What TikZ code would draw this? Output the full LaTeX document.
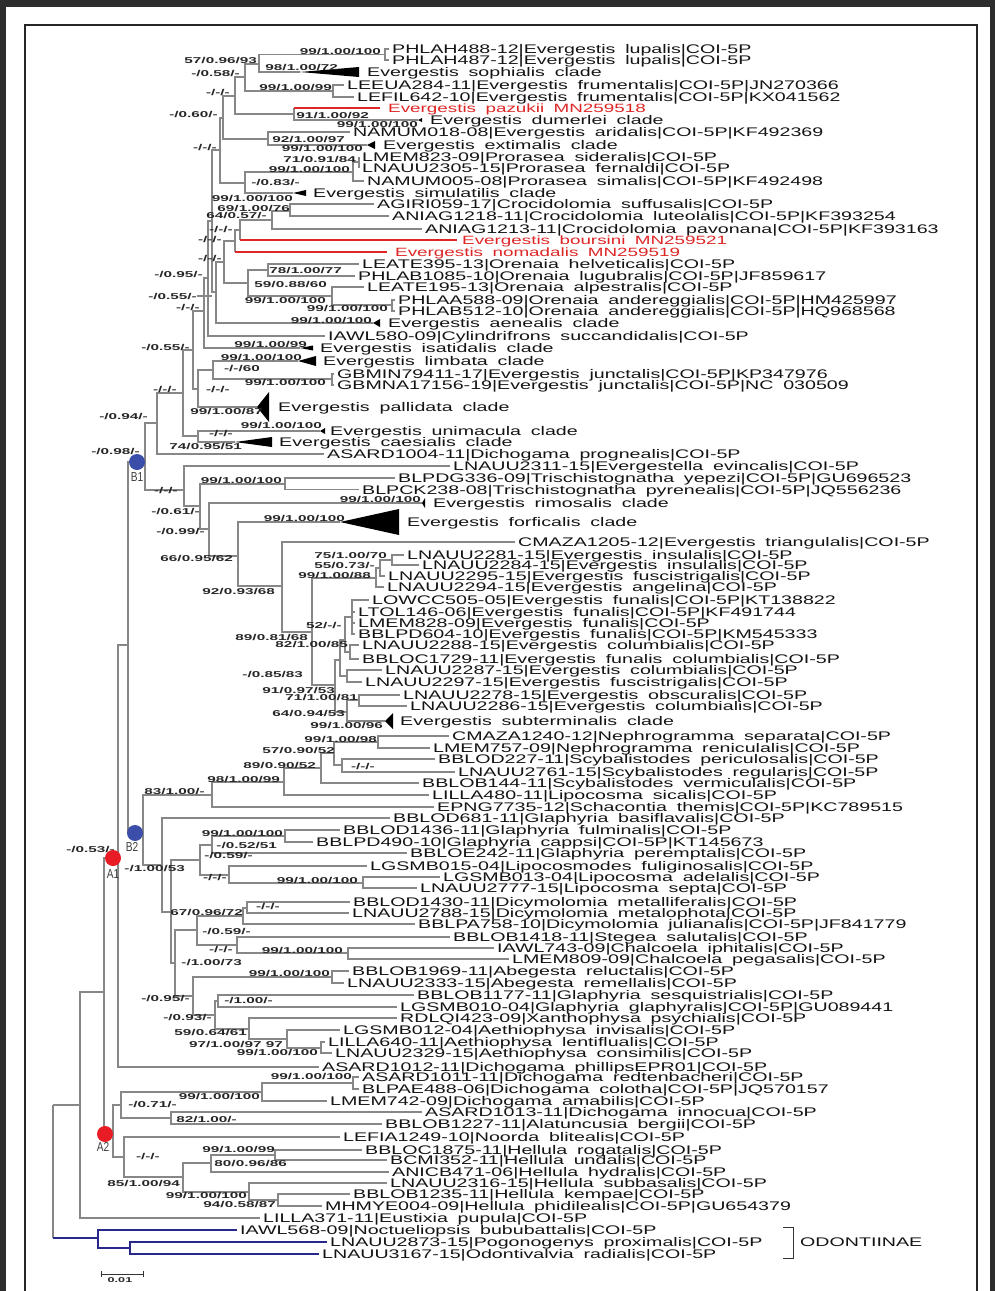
\documentclass[tikz,border=0pt]{standalone}
\usepackage{fontspec}
\setmainfont{Liberation Sans}
\newfontfamily\lff[FakeStretch=1.57,WordSpace=1.8]{Liberation Sans}
\newfontfamily\bsf[FakeStretch=1.8]{Liberation Sans}
\newfontfamily\tagf[FakeStretch=0.78]{Liberation Sans}
\definecolor{treegray}{RGB}{135,135,135}
\definecolor{redtx}{RGB}{222,38,38}
\definecolor{navy}{RGB}{40,40,140}
\definecolor{dotred}{RGB}{232,28,36}
\definecolor{dotblue}{RGB}{58,78,170}
\definecolor{framedark}{RGB}{45,45,45}
\tikzset{
  leaf/.style={anchor=west,inner sep=0pt,text height=9pt,text depth=0pt,font=\lff\fontsize{12.5pt}{12.5pt}\selectfont,text=black!92},
  redleaf/.style={leaf,text=redtx,font=\lff\fontsize{12pt}{12pt}\selectfont},
  bs/.style={anchor=base east,inner sep=0pt,font=\bsf\bfseries\fontsize{8.5pt}{8.5pt}\selectfont,text=black!85},
  br/.style={draw=treegray,line width=1.2pt},
  rbr/.style={draw=redtx,line width=1.3pt},
  bbr/.style={draw=navy,line width=2pt},
  dot/.style={circle,inner sep=0pt,minimum size=16pt},
  tagl/.style={inner sep=0pt,font=\tagf\fontsize{13pt}{13pt}\selectfont,text=black!75}
}
\newcommand\leafn[4]{\node[leaf] (#1) at (#2,#3) {#4};}
\newcounter{bsc}
\newcommand\bsl[3]{\stepcounter{bsc}\node[bs] (bs\arabic{bsc}) at (#1,#2) {#3};}
\newcommand\clade[7]{\coordinate (#1) at (#2,#3);\fill[black] (#1) -- (#4,#3-#5) -- (#4,#3+#5) -- cycle;\node[leaf] (#1t) at (#6,#3) {#7};}
\newcommand\edg[2]{\draw[br] (#1) |- (#2);}
\newcommand\edl[2]{\draw[br] (#1) |- ([xshift=-3pt]#2.west);}
\begin{document}
\begin{tikzpicture}[x=1pt,y=-1pt]
\useasboundingbox (0,0) rectangle (995,1291);
\fill[white] (0,0) rectangle (995,1291);
% frame
\fill[framedark] (0,0) rectangle (995,7);
\fill[framedark] (0,0) rectangle (6,1291);
\fill[framedark] (990,0) rectangle (995,1291);
\draw[black!85,line width=1.6pt] (25,1291) -- (25,25) -- (977,25) -- (977,1291);

% ---------- internal nodes ----------
\coordinate (PH) at (385,54.5);
\coordinate (N57) at (259,64);
\coordinate (FR) at (333,91);
\coordinate (N58) at (245,77);
\coordinate (N91) at (294,114);
\coordinate (N6) at (235,96);
\coordinate (EX) at (268,139);
\coordinate (N60) at (223,118);
\coordinate (PR71) at (359,162);
\coordinate (PR99) at (353,172);
\coordinate (PR83) at (245,183);
\coordinate (L1) at (220,150);
\coordinate (CR69) at (290,211);
\coordinate (CR64) at (272,220);
\coordinate (BOU) at (240,230);
\coordinate (NOM) at (235,241);
\coordinate (OR78) at (268,270);
\coordinate (ORP) at (392,305);
\coordinate (OR99) at (332,296);
\coordinate (OR59) at (248,283);
\coordinate (N224) at (224,262);
\coordinate (NA) at (216,292);
\coordinate (X) at (212,221);
\coordinate (N95) at (208,278);
\coordinate (N204) at (204,311);
\coordinate (GBM) at (332,379);
\coordinate (N60b) at (213,370);
\coordinate (N198) at (198,389);
\coordinate (N193) at (193,350);
\coordinate (U) at (198,436);
\coordinate (N183) at (183,393);
\coordinate (N94) at (157,423);
\coordinate (B1a) at (145,462);
\coordinate (EV) at (184,490);
\coordinate (TRI) at (285,484);
\coordinate (E61) at (200,506);
\coordinate (E99) at (209,529);
\coordinate (E66) at (238,556);
\coordinate (E92) at (282,586);
\coordinate (F312) at (312,632);
\coordinate (INS) at (376,578);
\coordinate (IN55) at (380,568);
\coordinate (IN75) at (392,560);
\coordinate (FB) at (335,685);
\coordinate (FC) at (340,660);
\coordinate (F89) at (345,640);
\coordinate (F52) at (352,617);
\coordinate (F82) at (350,652);
\coordinate (COL) at (347,676);
\coordinate (FD) at (347,712);
\coordinate (F71) at (359,700);
\coordinate (NEP) at (378,742);
\coordinate (SCY) at (342,765);
\coordinate (N57b) at (334,753);
\coordinate (N89) at (321,768);
\coordinate (N98) at (284,782);
\coordinate (N83) at (212,795);
\coordinate (GL99) at (285,836);
\coordinate (GL212) at (212,845);
\coordinate (LIP) at (363,883);
\coordinate (LIP229) at (229,875);
\coordinate (GLA) at (200,860);
\coordinate (DP) at (247,908);
\coordinate (DIC) at (243,916);
\coordinate (CHA) at (348,953);
\coordinate (STE) at (237,945);
\coordinate (G197) at (197,930);
\coordinate (AB) at (332,977);
\coordinate (G218) at (218,1001);
\coordinate (AE2) at (321,1048);
\coordinate (AE97) at (287,1039);
\coordinate (AE59) at (249,1029);
\coordinate (G215) at (215,1015);
\coordinate (G193) at (193,996);
\coordinate (G175) at (175,963);
\coordinate (G173) at (171,912);
\coordinate (G162) at (162,865);
\coordinate (B2n) at (143,833);
\coordinate (Bn) at (128,645);
\coordinate (A1n) at (118,858);
\coordinate (DI2) at (353,1083);
\coordinate (DI99) at (262,1092);
\coordinate (DI82) at (171,1118);
\coordinate (DICH) at (121,1105);
\coordinate (H99) at (275,1155);
\coordinate (HR) at (211,1163);
\coordinate (HP) at (278,1200);
\coordinate (HS) at (249,1192);
\coordinate (H85) at (183,1177);
\coordinate (HEL) at (124,1157);
\coordinate (A2n) at (113,1134);
\coordinate (N104) at (104,992);
\coordinate (N80) at (80,1105);
\coordinate (ROOT) at (53,1105);
\coordinate (OD) at (98,1238);
\coordinate (OD2) at (130,1248);

% ---------- leaves ----------
\leafn{l1}{392}{49}{PHLAH488-12|Evergestis lupalis|COI-5P}
\leafn{l2}{392}{60}{PHLAH487-12|Evergestis lupalis|COI-5P}
\clade{c3}{300}{72}{359}{5}{367}{Evergestis sophialis clade}
\leafn{l4}{347}{85}{LEEUA284-11|Evergestis frumentalis|COI-5P|JN270366}
\leafn{l5}{357}{97}{LEFIL642-10|Evergestis frumentalis|COI-5P|KX041562}
\node[redleaf] (paz) at (388,108) {Evergestis pazukii MN259518};
\clade{c7}{418}{120}{422}{2}{430}{Evergestis dumerlei clade}
\leafn{l8}{353}{132}{NAMUM018-08|Evergestis aridalis|COI-5P|KF492369}
\clade{c9}{367}{145}{375}{4}{383}{Evergestis extimalis clade}
\leafn{l10}{362}{157}{LMEM823-09|Prorasea sideralis|COI-5P}
\leafn{l11}{362}{168}{LNAUU2305-15|Prorasea fernaldi|COI-5P}
\leafn{l12}{367}{181}{NAMUM005-08|Prorasea simalis|COI-5P|KF492498}
\clade{c13}{293}{193}{306}{3}{313}{Evergestis simulatilis clade}
\leafn{l14}{377}{204}{AGIRI059-17|Crocidolomia suffusalis|COI-5P}
\leafn{l15}{392}{216}{ANIAG1218-11|Crocidolomia luteolalis|COI-5P|KF393254}
\leafn{l16}{425}{229}{ANIAG1213-11|Crocidolomia pavonana|COI-5P|KF393163}
\node[redleaf] (bou) at (462,240) {Evergestis boursini MN259521};
\node[redleaf] (nom) at (395,252) {Evergestis nomadalis MN259519};
\leafn{l19}{362}{264}{LEATE395-13|Orenaia helveticalis|COI-5P}
\leafn{l20}{358}{276}{PHLAB1085-10|Orenaia lugubralis|COI-5P|JF859617}
\leafn{l21}{367}{287}{LEATE195-13|Orenaia alpestralis|COI-5P}
\leafn{l22}{398}{300}{PHLAA588-09|Orenaia andereggialis|COI-5P|HM425997}
\leafn{l23}{398}{311}{PHLAB512-10|Orenaia andereggialis|COI-5P|HQ968568}
\clade{c24}{373}{323}{380}{4}{388}{Evergestis aenealis clade}
\leafn{l25}{328}{336}{IAWL580-09|Cylindrifrons succandidalis|COI-5P}
\clade{c26}{300}{348}{313}{2.5}{320}{Evergestis isatidalis clade}
\clade{c27}{298}{361}{316}{5}{323}{Evergestis limbata clade}
\leafn{l28}{337}{374}{GBMIN79411-17|Evergestis junctalis|COI-5P|KP347976}
\leafn{l29}{337}{385}{GBMNA17156-19|Evergestis junctalis|COI-5P|NC 030509}
\clade{c30}{257}{407}{269}{15}{278}{Evergestis pallidata clade}
\clade{c31}{320}{431}{325}{3}{330}{Evergestis unimacula clade}
\clade{c32}{235}{442}{272}{5}{279}{Evergestis caesialis clade}
\leafn{l33}{327}{454}{ASARD1004-11|Dichogama prognealis|COI-5P}
\leafn{l34}{453}{466}{LNAUU2311-15|Evergestella evincalis|COI-5P}
\leafn{l35}{398}{478}{BLPDG336-09|Trischistognatha yepezi|COI-5P|GU696523}
\leafn{l36}{362}{489.5}{BLPCK238-08|Trischistognatha pyrenealis|COI-5P|JQ556236}
\clade{c37}{422}{503}{425}{5}{433}{Evergestis rimosalis clade}
\clade{c38}{340}{522}{399}{13}{407}{Evergestis forficalis clade}
\leafn{l39}{518}{542}{CMAZA1205-12|Evergestis triangulalis|COI-5P}
\leafn{l40}{407}{555}{LNAUU2281-15|Evergestis insulalis|COI-5P}
\leafn{l41}{422}{565}{LNAUU2284-15|Evergestis insulalis|COI-5P}
\leafn{l42}{388}{576}{LNAUU2295-15|Evergestis fuscistrigalis|COI-5P}
\leafn{l43}{387}{587}{LNAUU2294-15|Evergestis angelina|COI-5P}
\leafn{l44}{372}{600}{LOWCC505-05|Evergestis funalis|COI-5P|KT138822}
\leafn{l45}{358}{612}{LTOL146-06|Evergestis funalis|COI-5P|KF491744}
\leafn{l46}{358}{623}{LMEM828-09|Evergestis funalis|COI-5P}
\leafn{l47}{358}{634}{BBLPD604-10|Evergestis funalis|COI-5P|KM545333}
\leafn{l48}{362}{645}{LNAUU2288-15|Evergestis columbialis|COI-5P}
\leafn{l49}{362}{659}{BBLOC1729-11|Evergestis funalis columbialis|COI-5P}
\leafn{l50}{385}{670}{LNAUU2287-15|Evergestis columbialis|COI-5P}
\leafn{l51}{365}{682}{LNAUU2297-15|Evergestis fuscistrigalis|COI-5P}
\leafn{l52}{403}{695}{LNAUU2278-15|Evergestis obscuralis|COI-5P}
\leafn{l53}{410}{706}{LNAUU2286-15|Evergestis columbialis|COI-5P}
\clade{c54}{385}{721}{393}{8}{400}{Evergestis subterminalis clade}
\leafn{l55}{452}{736}{CMAZA1240-12|Nephrogramma separata|COI-5P}
\leafn{l56}{433}{748}{LMEM757-09|Nephrogramma reniculalis|COI-5P}
\leafn{l57}{438}{759}{BBLOD227-11|Scybalistodes periculosalis|COI-5P}
\leafn{l58}{458}{772}{LNAUU2761-15|Scybalistodes regularis|COI-5P}
\leafn{l59}{422}{783}{BBLOB144-11|Scybalistodes vermiculalis|COI-5P}
\leafn{l60}{432}{795}{LILLA480-11|Lipocosma sicalis|COI-5P}
\leafn{l61}{437}{807}{EPNG7735-12|Schacontia themis|COI-5P|KC789515}
\leafn{l62}{393}{818}{BBLOD681-11|Glaphyria basiflavalis|COI-5P}
\leafn{l63}{343}{830}{BBLOD1436-11|Glaphyria fulminalis|COI-5P}
\leafn{l64}{316}{842}{BBLPD490-10|Glaphyria cappsi|COI-5P|KT145673}
\leafn{l65}{410}{853}{BBLOE242-11|Glaphyria peremptalis|COI-5P}
\leafn{l66}{370}{866}{LGSMB015-04|Lipocosmodes fuliginosalis|COI-5P}
\leafn{l67}{443}{877}{LGSMB013-04|Lipocosma adelalis|COI-5P}
\leafn{l68}{420}{888}{LNAUU2777-15|Lipocosma septa|COI-5P}
\leafn{l69}{353}{902}{BBLOD1430-11|Dicymolomia metalliferalis|COI-5P}
\leafn{l70}{352}{913}{LNAUU2788-15|Dicymolomia metalophota|COI-5P}
\leafn{l71}{418}{924}{BBLPA758-10|Dicymolomia julianalis|COI-5P|JF841779}
\leafn{l72}{453}{937}{BBLOB1418-11|Stegea salutalis|COI-5P}
\leafn{l73}{497}{948}{IAWL743-09|Chalcoela iphitalis|COI-5P}
\leafn{l74}{512}{959}{LMEM809-09|Chalcoela pegasalis|COI-5P}
\leafn{l75}{352}{971}{BBLOB1969-11|Abegesta reluctalis|COI-5P}
\leafn{l76}{347}{983}{LNAUU2333-15|Abegesta remellalis|COI-5P}
\leafn{l77}{417}{995}{BBLOB1177-11|Glaphyria sesquistrialis|COI-5P}
\leafn{l78}{400}{1007}{LGSMB010-04|Glaphyria glaphyralis|COI-5P|GU089441}
\leafn{l79}{400}{1018}{RDLQI423-09|Xanthophysa psychialis|COI-5P}
\leafn{l80}{343}{1030}{LGSMB012-04|Aethiophysa invisalis|COI-5P}
\leafn{l81}{328}{1042}{LILLA640-11|Aethiophysa lentiflualis|COI-5P}
\leafn{l82}{335}{1053}{LNAUU2329-15|Aethiophysa consimilis|COI-5P}
\leafn{l83}{322}{1067}{ASARD1012-11|Dichogama phillipsEPR01|COI-5P}
\leafn{l84}{362}{1077}{ASARD1011-11|Dichogama redtenbacheri|COI-5P}
\leafn{l85}{362}{1089}{BLPAE488-06|Dichogama colotha|COI-5P|JQ570157}
\leafn{l86}{330}{1101}{LMEM742-09|Dichogama amabilis|COI-5P}
\leafn{l87}{425}{1112}{ASARD1013-11|Dichogama innocua|COI-5P}
\leafn{l88}{385}{1124}{BBLOB1227-11|Alatuncusia bergii|COI-5P}
\leafn{l89}{343}{1137}{LEFIA1249-10|Noorda blitealis|COI-5P}
\leafn{l90}{365}{1150}{BBLOC1875-11|Hellula rogatalis|COI-5P}
\leafn{l91}{390}{1160}{BCMI352-11|Hellula undalis|COI-5P}
\leafn{l92}{392}{1172}{ANICB471-06|Hellula hydralis|COI-5P}
\leafn{l93}{390}{1183}{LNAUU2316-15|Hellula subbasalis|COI-5P}
\leafn{l94}{353}{1194}{BBLOB1235-11|Hellula kempae|COI-5P}
\leafn{l95}{325}{1206}{MHMYE004-09|Hellula phidilealis|COI-5P|GU654379}
\leafn{l96}{263}{1218}{LILLA371-11|Eustixia pupula|COI-5P}
\leafn{l97}{240}{1230}{IAWL568-09|Noctueliopsis bububattalis|COI-5P}
\leafn{l98}{330}{1242}{LNAUU2873-15|Pogonogenys proximalis|COI-5P}
\leafn{l99}{322}{1254}{LNAUU3167-15|Odontivalvia radialis|COI-5P}

% ---------- branches ----------
\edl{PH}{l1}\edl{PH}{l2}
\edg{N57}{PH}\edg{N57}{c3}
\edl{FR}{l4}\edl{FR}{l5}
\edg{N58}{N57}\edg{N58}{FR}
\draw[br] (N91) -- (N91 |- paz.west);
\draw[rbr] (N91 |- paz.west) -- ([xshift=-8pt]paz.west);
\edg{N91}{c7}
\edg{N6}{N58}\edg{N6}{N91}
\edl{EX}{l8}\edg{EX}{c9}
\edg{N60}{N6}\edg{N60}{EX}
\edl{PR71}{l10}\edl{PR71}{l11}
\edg{PR99}{PR71}\edl{PR99}{l12}
\edg{PR83}{PR99}\edg{PR83}{c13}
\edg{L1}{N60}\edg{L1}{PR83}
\edl{CR69}{l14}\edl{CR69}{l15}
\edg{CR64}{CR69}\edl{CR64}{l16}
\edg{BOU}{CR64}
\draw[br] (BOU) -- (BOU |- bou.west);
\draw[rbr] (BOU |- bou.west) -- ([xshift=-5pt]bou.west);
\edg{NOM}{BOU}
\draw[br] (NOM) -- (NOM |- nom.west);
\draw[rbr] (NOM |- nom.west) -- ([xshift=-8pt]nom.west);
\edl{OR78}{l19}\edl{OR78}{l20}
\edl{ORP}{l22}\edl{ORP}{l23}
\edl{OR99}{l21}\edg{OR99}{ORP}
\edg{OR59}{OR78}\edg{OR59}{OR99}
\edg{N224}{NOM}\edg{N224}{OR59}
\edg{NA}{N224}\edg{NA}{c24}
\edg{X}{L1}\edg{X}{NA}
\edg{N95}{X}\edl{N95}{l25}
\edg{N204}{N95}\edg{N204}{c26}
\edl{GBM}{l28}\edl{GBM}{l29}
\edg{N60b}{c27}\edg{N60b}{GBM}
\edg{N198}{N60b}\edg{N198}{c30}
\edg{N193}{N204}\edg{N193}{N198}
\edg{U}{c31}\edg{U}{c32}
\edg{N183}{N193}\edg{N183}{U}
\edg{N94}{N183}\edl{N94}{l33}
\edg{B1a}{N94}\edg{B1a}{EV}
\edl{EV}{l34}\edg{EV}{E61}
\edl{TRI}{l35}\edl{TRI}{l36}
\edg{E61}{TRI}\edg{E61}{E99}
\edg{E99}{c37}\edg{E99}{E66}
\edg{E66}{c38}\edg{E66}{E92}
\edl{E92}{l39}\edg{E92}{F312}
\edg{F312}{INS}\edg{F312}{FB}
\edg{INS}{IN55}\edl{INS}{l43}
\edg{IN55}{IN75}\edl{IN55}{l42}
\edl{IN75}{l40}\edl{IN75}{l41}
\edg{FB}{FC}\edg{FB}{FD}
\edg{FC}{F89}\edg{FC}{COL}
\edg{F89}{F52}\edg{F89}{F82}
\edl{F52}{l44}\edl{F52}{l45}\edl{F52}{l46}\edl{F52}{l47}
\edl{F82}{l48}\edl{F82}{l49}
\edl{COL}{l50}\edl{COL}{l51}
\edg{FD}{F71}\edg{FD}{c54}
\edl{F71}{l52}\edl{F71}{l53}
\edl{NEP}{l55}\edl{NEP}{l56}
\edl{SCY}{l57}\edl{SCY}{l58}
\edg{N57b}{NEP}\edg{N57b}{SCY}
\edg{N89}{N57b}\edl{N89}{l59}
\edg{N98}{N89}\edl{N98}{l60}
\edg{N83}{N98}\edl{N83}{l61}
\edl{GL99}{l63}\edl{GL99}{l64}
\edg{GL212}{GL99}\edl{GL212}{l65}
\edl{LIP}{l67}\edl{LIP}{l68}
\edl{LIP229}{l66}\edg{LIP229}{LIP}
\edg{GLA}{GL212}\edg{GLA}{LIP229}
\edl{DP}{l69}\edl{DP}{l70}
\edg{DIC}{DP}\edl{DIC}{l71}
\edl{CHA}{l73}\edl{CHA}{l74}
\edl{STE}{l72}\edg{STE}{CHA}
\edg{G197}{DIC}\edg{G197}{STE}
\edl{AB}{l75}\edl{AB}{l76}
\edl{G218}{l77}\edl{G218}{l78}
\edl{AE2}{l81}\edl{AE2}{l82}
\edl{AE97}{l80}\edg{AE97}{AE2}
\edl{AE59}{l79}\edg{AE59}{AE97}
\edg{G215}{G218}\edg{G215}{AE59}
\edg{G193}{AB}\edg{G193}{G215}
\edg{G175}{G197}\edg{G175}{G193}
\edg{G173}{GLA}\edg{G173}{G175}
\edl{G162}{l62}\edg{G162}{G173}
\edg{B2n}{N83}\edg{B2n}{G162}
\edg{Bn}{B1a}\edg{Bn}{B2n}
\edg{A1n}{Bn}\edl{A1n}{l83}
\edl{DI2}{l84}\edl{DI2}{l85}
\edg{DI99}{DI2}\edl{DI99}{l86}
\edl{DI82}{l87}\edl{DI82}{l88}
\edg{DICH}{DI99}\edg{DICH}{DI82}
\edl{H99}{l90}\edl{H99}{l91}
\edg{HR}{H99}\edl{HR}{l92}
\edl{HP}{l94}\edl{HP}{l95}
\edl{HS}{l93}\edg{HS}{HP}
\edg{H85}{HR}\edg{H85}{HS}
\edl{HEL}{l89}\edg{HEL}{H85}
\edg{A2n}{DICH}\edg{A2n}{HEL}
\edg{N104}{A1n}\edg{N104}{A2n}
\edg{N80}{N104}\edl{N80}{l96}
\edg{ROOT}{N80}
\draw[br] (ROOT) -- (ROOT |- OD);
\draw[bbr] (ROOT |- OD) -- (OD);
\draw[bbr] (OD) |- ([xshift=-3pt]l97.west);
\draw[bbr] (OD) |- (OD2);
\draw[bbr] (OD2) |- ([xshift=-3pt]l98.west);
\draw[bbr] (OD2) |- ([xshift=-3pt]l99.west);

% ---------- support values ----------
\bsl{381}{54}{99/1.00/100}
\bsl{257}{63}{57/0.96/93}
\bsl{338}{70}{98/1.00/72}
\bsl{240}{76}{-/0.58/-}
\bsl{332}{90}{99/1.00/99}
\bsl{230}{95}{-/-/-}
\bsl{369}{118}{91/1.00/92}
\bsl{218}{117}{-/0.60/-}
\bsl{418}{127}{99/1.00/100}
\bsl{345}{142}{92/1.00/97}
\bsl{363}{151}{99/1.00/100}
\bsl{217}{150}{-/-/-}
\bsl{356}{162}{71/0.91/84}
\bsl{350}{172}{99/1.00/100}
\bsl{300}{185}{-/0.83/-}
\bsl{293}{201}{99/1.00/100}
\bsl{290}{211}{69/1.00/76}
\bsl{267}{218}{64/0.57/-}
\bsl{233}{232}{-/-/-}
\bsl{222}{242}{-/-/-}
\bsl{222}{261}{-/-/-}
\bsl{342}{273}{78/1.00/77}
\bsl{203}{277}{-/0.95/-}
\bsl{327}{287}{59/0.88/60}
\node[bs] (lead) at (197,299) {-/0.55/-};
\draw[br] (lead.east) -- (X |- lead.east);
\bsl{326}{303}{99/1.00/100}
\bsl{200}{310}{-/-/-}
\bsl{388}{311}{99/1.00/100}
\bsl{372}{323}{99/1.00/100}
\bsl{307}{347}{99/1.00/99}
\bsl{190}{350}{-/0.55/-}
\bsl{302}{360}{99/1.00/100}
\bsl{260}{371}{-/-/60}
\bsl{326}{385}{99/1.00/100}
\bsl{230}{392}{-/-/-}
\bsl{177}{392}{-/-/-}
\bsl{263}{414}{99/1.00/87}
\bsl{148}{419}{-/0.94/-}
\bsl{322}{428}{99/1.00/100}
\bsl{233}{436}{-/-/-}
\bsl{242}{449}{74/0.95/51}
\bsl{140}{454}{-/0.98/-}
\bsl{282}{483}{99/1.00/100}
\bsl{178}{493}{-/-/-}
\bsl{421}{502.5}{99/1.00/100}
\bsl{200}{514}{-/0.61/-}
\bsl{345}{521}{99/1.00/100}
\bsl{205}{534}{-/0.99/-}
\bsl{387}{558}{75/1.00/70}
\bsl{233}{561}{66/0.95/62}
\bsl{375}{568}{55/0.73/-}
\bsl{371}{578}{99/1.00/88}
\bsl{275}{594}{92/0.93/68}
\bsl{342}{628}{52/-/-}
\bsl{308}{640}{89/0.81/68}
\bsl{348}{647}{82/1.00/85}
\bsl{303}{677}{-/0.85/83}
\bsl{335}{693}{91/0.97/53}
\bsl{358}{700}{71/1.00/81}
\bsl{345}{716}{64/0.94/53}
\bsl{383}{728}{99/1.00/96}
\bsl{377}{742}{99/1.00/98}
\bsl{335}{753}{57/0.90/52}
\bsl{316}{768}{89/0.90/52}
\bsl{375}{769}{-/-/-}
\bsl{280}{782}{98/1.00/99}
\bsl{205}{794}{83/1.00/-}
\bsl{283}{836}{99/1.00/100}
\bsl{277}{848}{-/0.52/51}
\bsl{115}{852}{-/0.53/-}
\bsl{253}{858}{-/0.59/-}
\bsl{185}{871}{-/1.00/53}
\bsl{227}{880}{-/-/-}
\bsl{358}{883}{99/1.00/100}
\bsl{280}{909}{-/-/-}
\bsl{243}{915}{67/0.96/72}
\bsl{251}{934}{-/0.59/-}
\bsl{233}{952}{-/-/-}
\bsl{343}{953}{99/1.00/100}
\bsl{242}{965}{-/1.00/73}
\bsl{330}{976}{99/1.00/100}
\bsl{190}{1001}{-/0.95/-}
\bsl{273}{1003}{-/1.00/-}
\bsl{212}{1020}{-/0.93/-}
\bsl{247}{1035}{59/0.64/61}
\bsl{283}{1047}{97/1.00/97 97}
\bsl{318}{1055}{99/1.00/100}
\bsl{352}{1079}{99/1.00/100}
\bsl{260}{1099}{99/1.00/100}
\bsl{177}{1107}{-/0.71/-}
\bsl{237}{1122}{82/1.00/-}
\bsl{275}{1152}{99/1.00/99}
\bsl{160}{1159}{-/-/-}
\bsl{287}{1166}{80/0.96/86}
\bsl{180}{1186}{85/1.00/94}
\bsl{247}{1198}{99/1.00/100}
\bsl{276}{1207}{94/0.58/87}

% ---------- clade markers ----------
\node[dot,fill=dotblue] (B1) at (137,462) {};
\node[tagl] (B1t) at (137,477) {B1};
\node[dot,fill=dotblue] (B2) at (135,833) {};
\node[tagl] (B2t) at (132,847) {B2};
\node[dot,fill=dotred] (A1) at (113,858) {};
\node[tagl] (A1t) at (113,874) {A1};
\node[dot,fill=dotred] (A2) at (105,1134) {};
\node[tagl] (A2t) at (103,1147) {A2};

% ---------- ODONTIINAE bracket ----------
\coordinate (bk1) at (783,1227);
\coordinate (bk2) at (783,1258);
\draw[black!80,line width=1pt] (bk1) -- ++(10,0) |- (bk2);
\node[leaf] (odt) at (800,1242) {ODONTIINAE};

% ---------- scale bar ----------
\coordinate (sb1) at (101,1274);
\coordinate (sb2) at (143,1274);
\draw[black!80,line width=0.9pt] (sb1) -- (sb2);
\draw[black!80,line width=0.9pt] ([yshift=3pt]sb1) -- ([yshift=-3pt]sb1);
\draw[black!80,line width=0.9pt] ([yshift=3pt]sb2) -- ([yshift=-3pt]sb2);
\node[anchor=north,inner sep=0pt,font=\bsf\bfseries\fontsize{7pt}{7pt}\selectfont,text=black!85] (sbl) at (120,1277) {0.01};
\end{tikzpicture}
\end{document}
